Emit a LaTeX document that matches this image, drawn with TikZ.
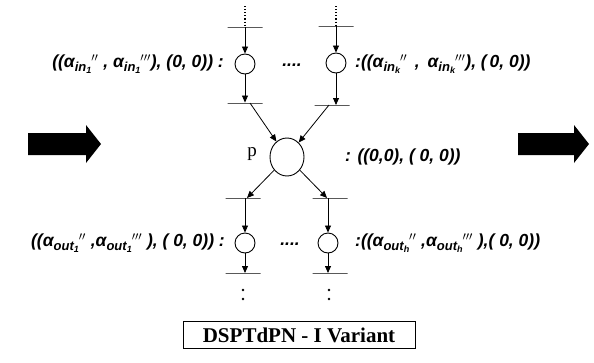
\documentclass[tikz,border=0pt]{standalone}
\usepackage{fontspec}
\setmainfont{Liberation Serif}
\newfontfamily\lab{Liberation Sans}
\usetikzlibrary{arrows.meta,shapes.geometric}
\newcommand\alp[3]{α\raisebox{-0.22em}{\fontsize{13}{14}\selectfont #1\raisebox{-0.18em}{\fontsize{9}{10}\selectfont #2}}$^{#3}$}
\begin{document}
\begin{tikzpicture}[x=1pt,y=-1pt,
  place/.style={circle,draw,line width=0.9pt,minimum size=20pt,inner sep=0pt},
  bigplace/.style={ellipse,draw,line width=0.9pt,minimum width=34pt,minimum height=38pt,inner sep=0pt},
  bar/.style={rectangle,draw,line width=0.9pt,minimum width=35pt,minimum height=0pt,inner sep=0pt},
  arr/.style={-{Triangle[length=7pt,width=6pt]},line width=0.8pt},
  dots/.style={dotted,line width=1.1pt},
  lbl/.style={font=\lab\bfseries\itshape\fontsize{17.5}{20}\selectfont,inner sep=0pt},
  bigarrow/.style={fill=black}
]
\useasboundingbox (0,0) rectangle (594,362);

% top left column
\coordinate (d1) at (245,6);
\node[bar] (t1) at (245,27) {};
\node[place] (c1) at (245,64) {};
\node[bar] (t2) at (245,103) {};
\draw[dots] (d1) -- (t1);
\draw[arr] (t1) -- (c1);
\draw[arr] (c1) -- (t2);

% top right column
\coordinate (d2) at (336,6);
\node[bar] (t3) at (336,26) {};
\node[place] (c2) at (336,63) {};
\node[bar] (t4) at (332,105) {};
\draw[dots] (d2) -- (t3);
\draw[arr] (t3) -- (c2);
\draw[arr] (c2) -- (c2 |- t4);

% central place
\node[bigplace] (p) at (287,157) {};
\node[font=\fontsize{19}{21}\selectfont] (plab) at (252,154) {p};
\draw[arr] ([xshift=5pt]t2.center) -- (p);
\draw[arr] ([xshift=-3pt]t4.center) -- (p);

% bottom columns
\node[bar] (b1) at (243,198) {};
\node[bar] (b2) at (330,198) {};
\draw[arr] (p) -- ([xshift=4pt]b1.center);
\draw[arr] (p) -- ([xshift=-3pt]b2.center);
\node[place] (c3) at (245,243) {};
\node[place] (c4) at (328,243) {};
\draw[arr] (c3 |- b1) -- (c3);
\draw[arr] (c4 |- b2) -- (c4);
\node[bar] (b3) at (243,273) {};
\node[bar] (b4) at (330,273) {};
\draw[arr] (c3) -- (c3 |- b3);
\draw[arr] (c4) -- (c4 |- b4);
\node[circle,fill,inner sep=0pt,minimum size=2.8pt] (e1) at (243,290) {};
\node[circle,fill,inner sep=0pt,minimum size=2.8pt] (e2) at (243,299) {};
\node[circle,fill,inner sep=0pt,minimum size=2.8pt] (e3) at (329,290) {};
\node[circle,fill,inner sep=0pt,minimum size=2.8pt] (e4) at (329,299) {};

% labels
\node[lbl,anchor=east] (l1) at (224,64) {((\alp{in}{1}{\prime\prime} , \alp{in}{1}{\prime\prime\prime}), (0, 0)) :};
\node[lbl,anchor=west] (l2) at (355,64) {:((\alp{in}{k}{\prime\prime} \,,\, \alp{in}{k}{\prime\prime\prime}), (\,0, 0))};
\node[lbl] (dt1) at (292,65) {....};
\node[lbl,anchor=west] (l3) at (345,157) {: ((0,0), ( 0, 0))};
\node[lbl,anchor=east] (l4) at (225,243) {((\alp{out}{1}{\prime\prime} ,\alp{out}{1}{\prime\prime\prime} ), ( 0, 0)) :};
\node[lbl,anchor=west] (l5) at (355,243) {:((\alp{out}{h}{\prime\prime} ,\alp{out}{h}{\prime\prime\prime} ),( 0, 0))};
\node[lbl] (dt2) at (290,244) {....};

% big arrows
\fill[bigarrow] (28,133) -- (86,133) -- (86,125) -- (101,144) -- (86,163) -- (86,155) -- (28,155) -- cycle;
\fill[bigarrow] (518,133) -- (574,133) -- (574,125) -- (589,144) -- (574,163) -- (574,155) -- (518,155) -- cycle;

% title
\node[draw,line width=1pt,font=\bfseries\fontsize{21}{23}\selectfont,minimum width=232pt,minimum height=27pt,inner sep=1pt] (title) at (299,335) {DSPTdPN - I Variant};
\end{tikzpicture}
\end{document}
